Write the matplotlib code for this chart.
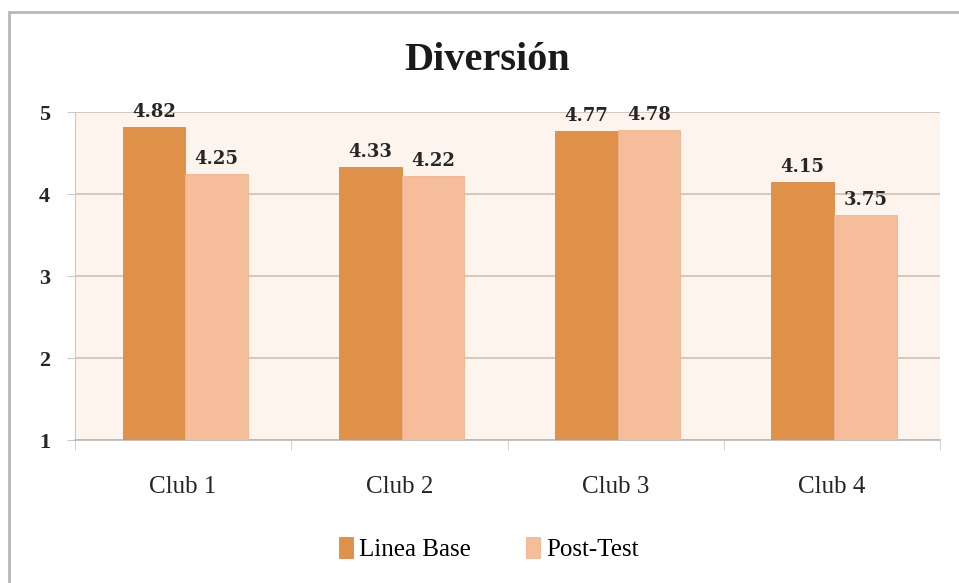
import numpy as np
import matplotlib.pyplot as plt
from matplotlib.patches import Rectangle

clubs = ['Club 1', 'Club 2', 'Club 3', 'Club 4']
linea_base = [4.82, 4.33, 4.77, 4.15]
post_test = [4.25, 4.22, 4.78, 3.75]

color_base = '#df914a'
color_post = '#f5bd99'

fig = plt.figure(figsize=(9.59, 5.83), dpi=100)
fig.patch.set_facecolor('white')

# marco gris del gráfico
fig.patches.append(Rectangle((0.009, -0.05), 1.2, 1.029, transform=fig.transFigure,
                             fill=False, edgecolor='#b8b8b8', linewidth=2.0))

ax = fig.add_axes([75 / 959, 1 - 440 / 583, 865 / 959, 328 / 583])
ax.set_facecolor('#fdf4ee')

x = np.arange(len(clubs))
w = 0.29
b1 = ax.bar(x - w / 2 + 0.01, np.array(linea_base) - 1, w, bottom=1, color=color_base,
            edgecolor='#d98a44', linewidth=0.6, label='Linea Base', zorder=3)
b2 = ax.bar(x + w / 2 + 0.01, np.array(post_test) - 1, w, bottom=1, color=color_post,
            edgecolor='#efb590', linewidth=0.6, label='Post-Test', zorder=3)

for xi, v in zip(x, linea_base):
    ax.text(xi - w / 2 + 0.01, v + 0.07, f'{v:.2f}', ha='center', va='bottom',
            fontsize=13, fontweight='bold', family='DejaVu Serif', color='#262626')
for xi, v in zip(x, post_test):
    ax.text(xi + w / 2 + 0.01, v + 0.07, f'{v:.2f}', ha='center', va='bottom',
            fontsize=13, fontweight='bold', family='DejaVu Serif', color='#262626')

ax.set_xlim(-0.5, 3.5)
ax.set_ylim(1, 5)
ax.set_yticks([1, 2, 3, 4, 5])
ax.yaxis.grid(True, color='#d8c6ba', linewidth=1.4, zorder=0)
ax.set_axisbelow(True)

ax.set_xticks(x)
ax.set_xticklabels(clubs, family='Liberation Serif', fontsize=18, color='#262626')
ax.set_xticks([-0.5, 0.5, 1.5, 2.5, 3.5], minor=True)
ax.tick_params(axis='x', which='major', length=0, pad=26)
ax.tick_params(axis='x', which='minor', length=7, color='#c9c9c9')
ax.tick_params(axis='y', length=6, color='#c9c9c9', pad=12)
for lab in ax.get_yticklabels():
    lab.set_family('Liberation Serif')
    lab.set_fontsize(16)
    lab.set_fontweight('bold')
    lab.set_color('#262626')

for s in ['top', 'right']:
    ax.spines[s].set_visible(False)
ax.spines['left'].set_color('#c9c9c9')
ax.spines['bottom'].set_color('#b8b8b8')
ax.spines['bottom'].set_linewidth(1.2)

fig.text(0.508, 1 - 60 / 583, 'Diversión', ha='center', va='center',
         fontsize=29, fontweight='bold', family='Liberation Serif', color='#1a1a1a')

fig.legend(handles=[b1, b2], loc='center', bbox_to_anchor=(0.51, 1 - 549 / 583), ncol=2,
           frameon=False, prop={'family': 'Liberation Serif', 'size': 18},
           handlelength=0.55, handleheight=0.9, handletextpad=0.25, columnspacing=2.2)

plt.savefig('out.png', dpi=100)
